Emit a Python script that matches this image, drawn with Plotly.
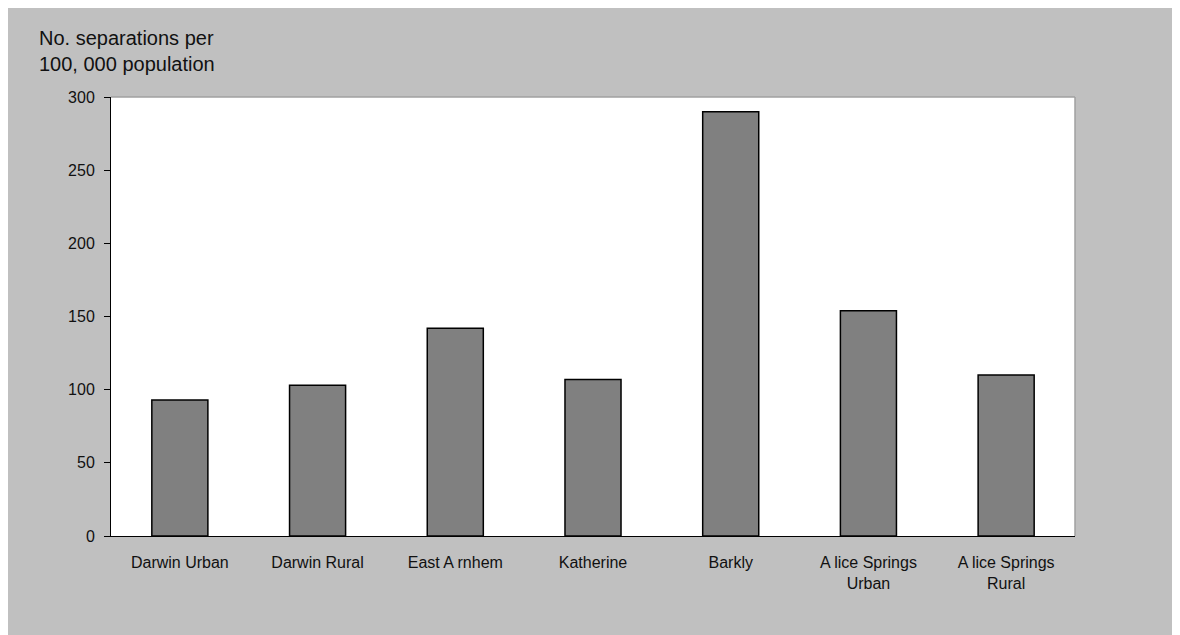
import plotly.graph_objects as go

categories = ["Darwin Urban", "Darwin Rural", "East A rnhem", "Katherine", "Barkly",
              "A lice Springs<br>Urban", "A lice Springs<br>Rural"]
values = [93, 103, 142, 107, 290, 154, 110]
y_ticks = [0, 50, 100, 150, 200, 250, 300]

W, H = 1200, 660
L, R, T, B = 103, 133, 89, 132
pw, ph = W - L - R, H - T - B

def px_x(x):
    return (x - L) / pw

def px_y(y):
    return (H - B - y) / ph

FONT = "Arial, Liberation Sans, sans-serif"

fig = go.Figure(go.Bar(
    x=categories, y=values,
    marker=dict(color="#808080", line=dict(color="black", width=1.5)),
))

fig.update_layout(
    width=W, height=H,
    margin=dict(l=L, r=R, t=T, b=B, pad=0),
    paper_bgcolor="#c0c0c0",
    plot_bgcolor="white",
    bargap=0.593,
    showlegend=False,
    font=dict(family=FONT, size=16, color="#111111"),
    xaxis=dict(showgrid=False, showline=True, linecolor="black", linewidth=1,
               ticks="outside", ticklen=12, tickcolor="rgba(0,0,0,0)",
               tickfont=dict(size=16), zeroline=False),
    yaxis=dict(range=[0, 300], tickvals=y_ticks, showgrid=False, showline=True,
               linecolor="black", linewidth=1, ticks="outside", ticklen=6,
               tickcolor="black", tickfont=dict(size=16), zeroline=False,
               ticklabelstandoff=6),
    shapes=[
        dict(type="line", xref="paper", yref="paper", x0=0, x1=1, y0=1, y1=1,
             line=dict(color="#a0a0a0", width=1.5)),
        dict(type="line", xref="paper", yref="paper", x0=1, x1=1, y0=0, y1=1,
             line=dict(color="#a0a0a0", width=1.5)),
    ],
    annotations=[
        dict(text="No. separations per<br>100, 000 population", xref="paper", yref="paper",
             x=px_x(29), y=px_y(17), xanchor="left", yanchor="top", align="left",
             showarrow=False, font=dict(size=20, family=FONT, color="#111111")),
    ],
)

fig.write_html("out.html")
